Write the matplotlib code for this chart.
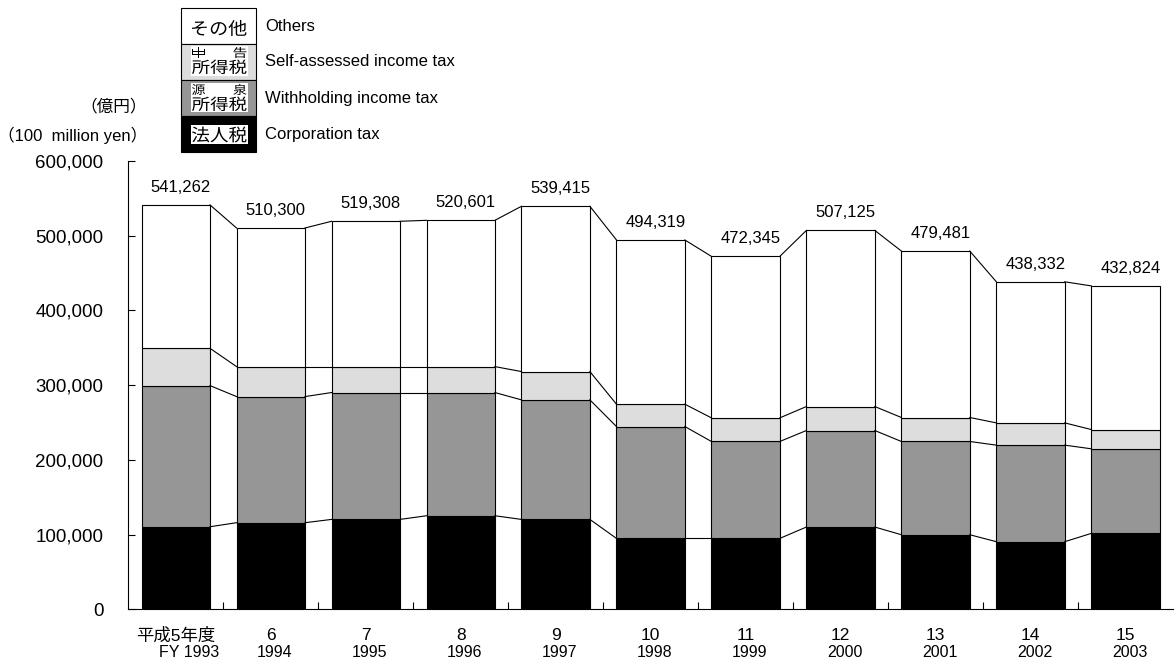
import numpy as np
import matplotlib
matplotlib.use('Agg')
import matplotlib.pyplot as plt
from matplotlib.patches import Rectangle, PathPatch
from matplotlib.textpath import TextPath
from matplotlib.transforms import Affine2D
from matplotlib.font_manager import FontProperties

plt.rcParams['font.family'] = ['Liberation Sans', 'Noto Sans CJK JP']

# Tax revenue by fiscal year (100 million yen)
years_jp = ['平成5年度', '6', '7', '8', '9', '10', '11', '12', '13', '14', '15']
years_en = ['FY 1993', '1994', '1995', '1996', '1997', '1998', '1999', '2000', '2001', '2002', '2003']
totals = [541262, 510300, 519308, 520601, 539415, 494319, 472345, 507125, 479481, 438332, 432824]
corporation = [110500, 115900, 120300, 125200, 120300, 94900, 94900, 110100, 99800, 90500, 101600]
withholding = [188900, 168800, 169800, 164900, 160000, 149700, 129700, 129200, 124800, 129200, 113200]
self_assessed = [49900, 40100, 34700, 34700, 37900, 29900, 31600, 32100, 32100, 29800, 25800]
others = [191962, 185500, 194508, 195801, 221215, 219819, 216145, 235725, 222781, 188832, 192224]

series = [corporation, withholding, self_assessed, others]
colors = ['#000000', '#969696', '#dddddd', '#ffffff']

W, H = 1174, 660
fig = plt.figure(figsize=(W / 100, H / 100), dpi=100)
ax = fig.add_axes([128.3 / W, 50.7 / H, (1173 - 128.3) / W, (609.3 - 161) / H])

x = np.arange(len(totals))
width = 0.72
bottom = np.zeros(len(totals))
levels = []
for vals, c in zip(series, colors):
    vals = np.array(vals, dtype=float)
    ax.bar(x, vals, width=width, bottom=bottom, color=c, edgecolor='black', linewidth=0.8, zorder=2)
    bottom = bottom + vals
    levels.append(bottom.copy())

# connector lines between neighbouring bars
for lev in levels:
    for i in range(len(x) - 1):
        ax.plot([x[i] + width / 2, x[i + 1] - width / 2], [lev[i], lev[i + 1]],
                color='black', linewidth=0.8, zorder=3)

# total labels
for i, t in enumerate(totals):
    ax.annotate(f'{t:,}', xy=(x[i], levels[-1][i]), xytext=(5, 10), textcoords='offset pixels',
                ha='center', va='bottom', fontsize=12)

ax.set_xlim(-0.5, len(x) - 0.5)
ax.set_ylim(0, 600000)
ax.set_yticks(np.arange(0, 600001, 100000))
ax.set_yticklabels([f'{v:,}' for v in range(0, 600001, 100000)])
ax.tick_params(axis='y', direction='in', length=5, width=0.8, pad=18, labelsize=13.5)
ax.set_xticks(x[:-1] + 0.5)
ax.set_xticklabels([])
ax.tick_params(axis='x', direction='in', length=5, width=0.8)
for s in ['top', 'right']:
    ax.spines[s].set_visible(False)
for s in ['left', 'bottom']:
    ax.spines[s].set_linewidth(0.8)

# two-line category labels
for i in range(len(x)):
    ax.annotate(years_jp[i], xy=(x[i], 0), xycoords=('data', 'axes fraction'),
                xytext=(0, -31), textcoords='offset pixels', ha='center', va='baseline', fontsize=12.5)
    dx = 13 if i == 0 else 4
    ax.annotate(years_en[i], xy=(x[i], 0), xycoords=('data', 'axes fraction'),
                xytext=(dx, -48), textcoords='offset pixels', ha='center', va='baseline', fontsize=11.5)

# overlay in image pixel coordinates for unit text and legend
ov = fig.add_axes([0, 0, 1, 1])
ov.set_xlim(0, W)
ov.set_ylim(H, 0)
ov.set_axis_off()

ov.text(147, 106.7, '（億円）', ha='right', va='center', fontsize=12)
ov.text(147, 135, '（100  million yen）', ha='right', va='center', fontsize=12)

cjk = FontProperties(family='Noto Sans CJK JP')


def stretched(s, x0, x1, y0, y1, color='black'):
    # glyph outline squeezed into the given pixel box
    tp = TextPath((0, 0), s, size=10, prop=cjk)
    ext = tp.get_extents()
    tr = (Affine2D().translate(-ext.x0, -ext.y1)
          .scale((x1 - x0) / ext.width, -(y1 - y0) / ext.height)
          .translate(x0, y0) + ov.transData)
    ov.add_patch(PathPatch(tp, facecolor=color, edgecolor='none', transform=tr))


leg_labels = ['Others', 'Self-assessed income tax', 'Withholding income tax', 'Corporation tax']
leg_colors = ['#ffffff', '#dddddd', '#969696', '#000000']
cell_top = [8.3, 44, 80, 116]
cell_bot = [44, 80, 116, 152.3]
for lab, c, t, b in zip(leg_labels, leg_colors, cell_top, cell_bot):
    ov.add_patch(Rectangle((180.7, t), 75, b - t, facecolor=c, edgecolor='black', linewidth=0.8))
    ov.text(265, (t + b) / 2, lab, ha='left', va='center', fontsize=12)

# white boxes behind cell texts
ov.add_patch(Rectangle((190.5, 46), 57, 29.5, facecolor='white', edgecolor='none'))
ov.add_patch(Rectangle((190.5, 82.5), 57, 29.5, facecolor='white', edgecolor='none'))
ov.add_patch(Rectangle((190.5, 125), 57, 19, facecolor='white', edgecolor='none'))

stretched('その他', 192, 246.5, 20, 36)
stretched('申', 192, 205, 47, 58)
stretched('告', 233.5, 246.5, 47, 58)
stretched('所得税', 192, 246.5, 59.5, 74)
stretched('源', 192, 205, 84, 95)
stretched('泉', 233.5, 246.5, 84, 95)
stretched('所得税', 192, 246.5, 96.5, 111)
stretched('法人税', 192, 246.5, 126.5, 142.5)

fig.savefig('out.png', dpi=100)
